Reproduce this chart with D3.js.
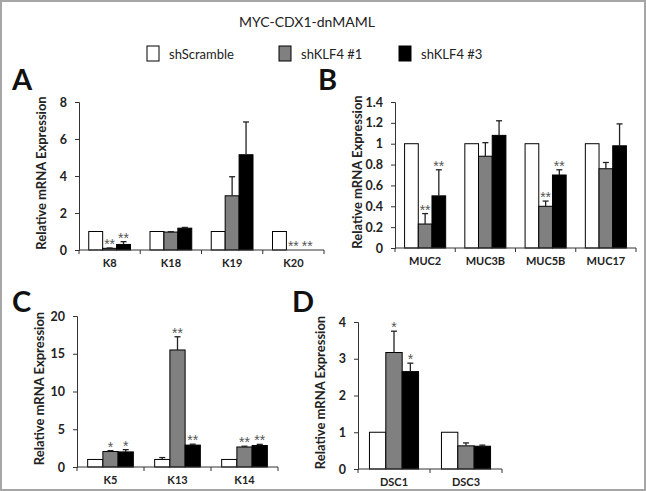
<!DOCTYPE html>
<html>
<head>
<meta charset="utf-8">
<script src="https://cdn.jsdelivr.net/npm/d3@7"></script>
<style>
  body { margin: 0; background: #fff; }
</style>
</head>
<body>
<div id="chart"></div>
<script>
// legend / series
const seriesNames = ["shScramble", "shKLF4 #1", "shKLF4 #3"];

// panel A - keratins
const catsA = ["K8", "K18", "K19", "K20"];
const scrambleA = [1, 1, 1, 1];
const scrambleErrA = [0, 0, 0, 0];
const klf1A = [0.09, 0.97, 2.93, 0];
const klf1ErrA = [0.02, 0.02, 1.03, 0];
const klf3A = [0.3, 1.18, 5.15, 0];
const klf3ErrA = [0.15, 0.04, 1.77, 0];
const sig1A = ["**", "", "", "**"];
const sig3A = ["**", "", "", "**"];
const ticksA = [0, 2, 4, 6, 8];

// panel B - mucins
const catsB = ["MUC2", "MUC3B", "MUC5B", "MUC17"];
const scrambleB = [1, 1, 1, 1];
const scrambleErrB = [0, 0, 0, 0];
const klf1B = [0.23, 0.88, 0.40, 0.76];
const klf1ErrB = [0.10, 0.13, 0.05, 0.06];
const klf3B = [0.50, 1.08, 0.70, 0.98];
const klf3ErrB = [0.25, 0.14, 0.05, 0.21];
const sig1B = ["**", "", "**", ""];
const sig3B = ["**", "", "**", ""];
const ticksB = [0, 0.2, 0.4, 0.6, 0.8, 1, 1.2, 1.4];

// panel C - squamous keratins
const catsC = ["K5", "K13", "K14"];
const scrambleC = [1, 1, 1];
const scrambleErrC = [0, 0.25, 0];
const klf1C = [2.05, 15.5, 2.65];
const klf1ErrC = [0.12, 1.75, 0.1];
const klf3C = [2.0, 2.9, 2.85];
const klf3ErrC = [0.3, 0.12, 0.15];
const sig1C = ["*", "**", "**"];
const sig3C = ["*", "**", "**"];
const ticksC = [0, 5, 10, 15, 20];

// panel D - desmocollins
const catsD = ["DSC1", "DSC3"];
const scrambleD = [1, 1];
const scrambleErrD = [0, 0];
const klf1D = [3.17, 0.63];
const klf1ErrD = [0.58, 0.08];
const klf3D = [2.65, 0.62];
const klf3ErrD = [0.23, 0.03];
const sig1D = ["*", ""];
const sig3D = ["*", ""];
const ticksD = [0, 1, 2, 3, 4];

const fills = ["#ffffff", "#808080", "#000000"];
const font = "Lato, 'Open Sans', sans-serif";

const width = 646;
const height = 491;

const svg = d3.create("svg")
  .attr("width", width)
  .attr("height", height)
  .attr("viewBox", [0, 0, width, height])
  .attr("style", `font-family: ${font};`);

svg.append("rect")
  .attr("x", 1).attr("y", 1)
  .attr("width", width - 2).attr("height", height - 2)
  .attr("fill", "white")
  .attr("stroke", "#a6a6a6")
  .attr("stroke-width", 2);

// title + legend
svg.append("text")
  .attr("x", 307).attr("y", 27)
  .attr("text-anchor", "middle")
  .attr("font-size", 14)
  .attr("fill", "#222")
  .text("MYC-CDX1-dnMAML");

const legendX = [147, 279, 399];
const legend = svg.append("g");
seriesNames.forEach((name, i) => {
  legend.append("rect")
    .attr("x", legendX[i]).attr("y", 46)
    .attr("width", 12).attr("height", 15)
    .attr("fill", fills[i])
    .attr("stroke", "#000");
  legend.append("text")
    .attr("x", legendX[i] + 22).attr("y", 58.5)
    .attr("font-size", 13)
    .attr("fill", "#222")
    .text(name);
});

function makeRows(cats, vals, errs, sigs) {
  return cats.map((c, i) => ({
    cat: c,
    bars: seriesNames.map((s, j) => ({
      series: s,
      value: vals[j][i],
      err: errs[j][i],
      sig: sigs[j][i]
    }))
  }));
}

const panels = [
  {
    letter: "A", lx: 12, ly: 90,
    box: { left: 79, right: 324, top: 102, bottom: 250 },
    max: 8, ticks: ticksA,
    rows: makeRows(catsA, [scrambleA, klf1A, klf3A],
      [scrambleErrA, klf1ErrA, klf3ErrA], [["", "", "", ""], sig1A, sig3A])
  },
  {
    letter: "B", lx: 318, ly: 90,
    box: { left: 395, right: 636, top: 102, bottom: 248 },
    max: 1.4, ticks: ticksB,
    rows: makeRows(catsB, [scrambleB, klf1B, klf3B],
      [scrambleErrB, klf1ErrB, klf3ErrB], [["", "", "", ""], sig1B, sig3B])
  },
  {
    letter: "C", lx: 12, ly: 312,
    box: { left: 77, right: 278, top: 316, bottom: 467 },
    max: 20, ticks: ticksC,
    rows: makeRows(catsC, [scrambleC, klf1C, klf3C],
      [scrambleErrC, klf1ErrC, klf3ErrC], [["", "", ""], sig1C, sig3C])
  },
  {
    letter: "D", lx: 292, ly: 312,
    box: { left: 358, right: 502, top: 322, bottom: 469 },
    max: 4, ticks: ticksD,
    rows: makeRows(catsD, [scrambleD, klf1D, klf3D],
      [scrambleErrD, klf1ErrD, klf3ErrD], [["", ""], sig1D, sig3D])
  }
];

panels.forEach(drawPanel);

function drawPanel(p) {
  const b = p.box;
  const g = svg.append("g");

  svg.append("text")
    .attr("x", p.lx).attr("y", p.ly)
    .attr("font-size", 29)
    .attr("font-weight", "bold")
    .attr("fill", "#111")
    .text(p.letter);

  const y = d3.scaleLinear().domain([0, p.max]).range([b.bottom, b.top]);
  const x0 = d3.scaleBand()
    .domain(p.rows.map(r => r.cat))
    .range([b.left, b.right])
    .padding(0);
  const x1 = d3.scaleBand()
    .domain(seriesNames)
    .range([0, x0.bandwidth()])
    .paddingInner(0)
    .paddingOuter(0.7);

  // bars
  const groups = g.selectAll("g.cat")
    .data(p.rows)
    .join("g")
    .attr("class", "cat")
    .attr("transform", d => `translate(${x0(d.cat)},0)`);

  groups.selectAll("rect")
    .data(d => d.bars.filter(v => v.value > 0))
    .join("rect")
    .attr("x", d => x1(d.series))
    .attr("y", d => y(d.value))
    .attr("width", x1.bandwidth())
    .attr("height", d => y(0) - y(d.value))
    .attr("fill", d => fills[seriesNames.indexOf(d.series)])
    .attr("stroke", "#000")
    .attr("stroke-width", 1);

  // error bars (upper only)
  const withErr = groups.selectAll("g.err")
    .data(d => d.bars.filter(v => v.err > 0))
    .join("g")
    .attr("class", "err")
    .attr("stroke", "#222")
    .attr("stroke-width", 1.3);
  withErr.append("line")
    .attr("x1", d => x1(d.series) + x1.bandwidth() / 2)
    .attr("x2", d => x1(d.series) + x1.bandwidth() / 2)
    .attr("y1", d => y(d.value))
    .attr("y2", d => y(d.value + d.err));
  withErr.append("line")
    .attr("x1", d => x1(d.series) + x1.bandwidth() / 2 - 3)
    .attr("x2", d => x1(d.series) + x1.bandwidth() / 2 + 3)
    .attr("y1", d => y(d.value + d.err))
    .attr("y2", d => y(d.value + d.err));

  // significance stars
  groups.selectAll("text.sig")
    .data(d => d.bars.filter(v => v.sig))
    .join("text")
    .attr("class", "sig")
    .attr("x", d => x1(d.series) + x1.bandwidth() / 2)
    .attr("y", d => y(d.value + d.err) + 1)
    .attr("text-anchor", "middle")
    .attr("font-family", "'Liberation Sans', Arial, sans-serif")
    .attr("font-size", 14)
    .attr("fill", "#555")
    .text(d => d.sig);

  // y axis
  const yAxis = g.append("g")
    .attr("transform", `translate(${b.left},0)`)
    .call(d3.axisLeft(y).tickValues(p.ticks).tickSize(4).tickPadding(8)
      .tickFormat(d => String(d)));
  yAxis.select(".domain").attr("stroke", "#333");
  yAxis.selectAll(".tick line").attr("stroke", "#333");
  yAxis.selectAll(".tick text")
    .attr("font-family", font)
    .attr("font-size", 12.5)
    .attr("font-weight", "bold")
    .attr("fill", "#222");

  g.append("text")
    .attr("transform", `translate(${b.left - 33},${(b.top + b.bottom) / 2 - 3}) rotate(-90)`)
    .attr("text-anchor", "middle")
    .attr("font-size", 13)
    .attr("font-weight", "bold")
    .attr("fill", "#222")
    .text("Relative mRNA Expression");

  // x axis with ticks at category boundaries
  const xAxis = g.append("g")
    .attr("transform", `translate(0,${b.bottom})`);
  xAxis.append("line")
    .attr("x1", b.left).attr("x2", b.right)
    .attr("stroke", "#333");
  const bounds = p.rows.map(r => x0(r.cat)).concat([b.right]);
  xAxis.selectAll("line.tk")
    .data(bounds)
    .join("line")
    .attr("class", "tk")
    .attr("x1", d => d).attr("x2", d => d)
    .attr("y1", 0).attr("y2", 4)
    .attr("stroke", "#333");
  xAxis.selectAll("text")
    .data(p.rows)
    .join("text")
    .attr("x", d => x0(d.cat) + x0.bandwidth() / 2)
    .attr("y", 17)
    .attr("text-anchor", "middle")
    .attr("font-size", 11)
    .attr("font-weight", "bold")
    .attr("fill", "#222")
    .text(d => d.cat);
}

document.getElementById("chart").append(svg.node());
</script>
</body>
</html>
